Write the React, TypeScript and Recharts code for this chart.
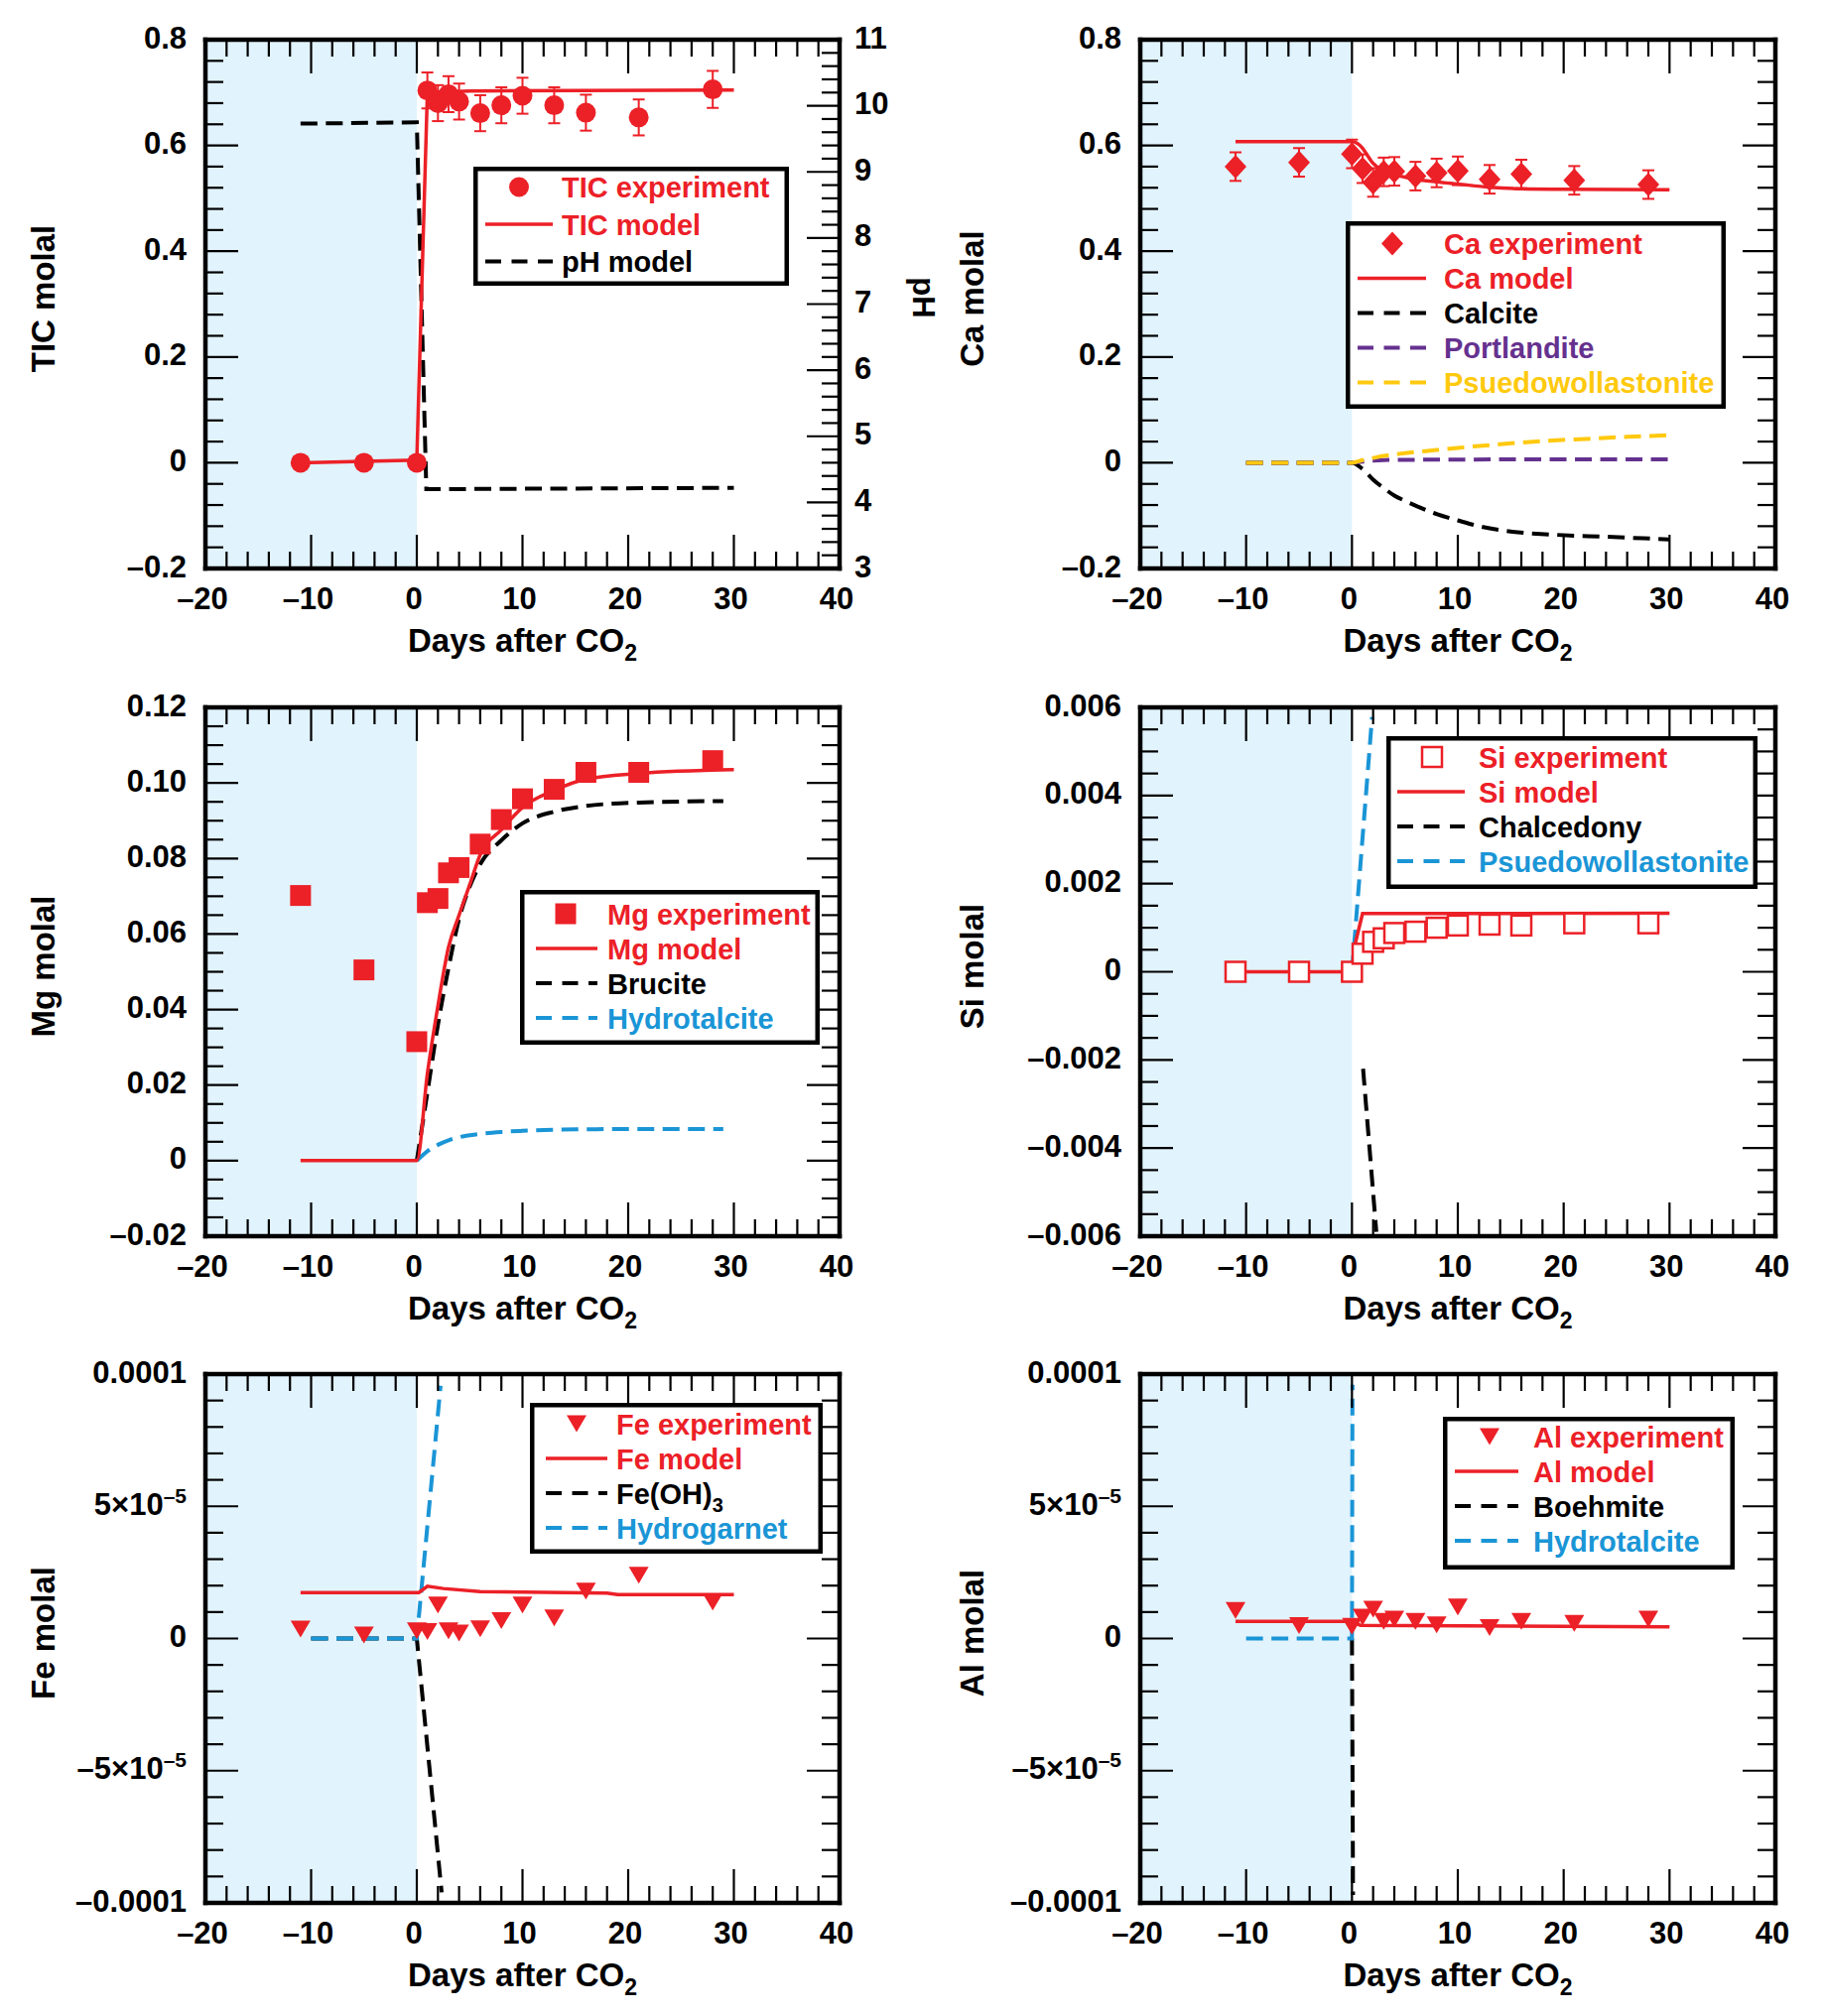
import React from 'react';
import { ComposedChart, Line, Scatter, XAxis, YAxis, ReferenceArea, ErrorBar, Legend } from 'recharts';

const FONT = '"Liberation Sans", Arial, Helvetica, sans-serif';
const RED = '#ec2027';
const BLUE = '#1a95d6';
const PURPLE = '#65318f';
const YELLOW = '#ffc90e';
const BLACK = '#000000';
const SHADE = '#e1f3fd';

// ---------- shared x axis ----------
const xDomain: [number, number] = [-20, 40];
const xMajorTicks = [-20, -10, 0, 10, 20, 30, 40];
const xMajorLabels = ['–20', '–10', '0', '10', '20', '30', '40'];
const xMinorStep = 2;
const shadeDays: [number, number] = [-20, 0];

// sampling days of the experiment
const sampleDays = [-11, -5, 0, 1, 2, 3, 4, 6, 8, 10, 13, 16, 21, 28];

// ---------- TIC / pH ----------
const ticTicks = [-0.2, 0, 0.2, 0.4, 0.6, 0.8];
const ticTickLabels = ['–0.2', '0', '0.2', '0.4', '0.6', '0.8'];
const phTicks = [3, 4, 5, 6, 7, 8, 9, 10, 11];
const phTickLabels = ['3', '4', '5', '6', '7', '8', '9', '10', '11'];
const ticExperiment = [0, 0, 0, 0.704, 0.68, 0.697, 0.683, 0.661, 0.676, 0.694, 0.676, 0.662, 0.653, 0.706];
const ticError = [0, 0, 0, 0.034, 0.034, 0.034, 0.034, 0.034, 0.034, 0.034, 0.034, 0.034, 0.034, 0.035];
const ticModelDays = [-11, 0, 1, 5, 30];
const ticModelValues = [0, 0.005, 0.7, 0.703, 0.705];
const phModelDays = [-11, 0, 0.9, 30];
const phModelValues = [9.73, 9.75, 4.2, 4.22];

// ---------- Ca ----------
const caTicks = [-0.2, 0, 0.2, 0.4, 0.6, 0.8];
const caTickLabels = ['–0.2', '0', '0.2', '0.4', '0.6', '0.8'];
const caExperiment = [0.56, 0.568, 0.584, 0.556, 0.53, 0.55, 0.551, 0.542, 0.548, 0.552, 0.536, 0.546, 0.534, 0.526];
const caError = [0.027, 0.027, 0.027, 0.027, 0.027, 0.027, 0.027, 0.027, 0.027, 0.027, 0.027, 0.027, 0.027, 0.027];
const caModelDays = [-11, 0, 0.5, 1, 1.5, 2, 3, 4, 5, 6, 8, 10, 13, 16, 20, 30];
const caModelValues = [0.607, 0.607, 0.604, 0.595, 0.58, 0.566, 0.552, 0.545, 0.54, 0.536, 0.531, 0.527, 0.521, 0.518, 0.517, 0.516];
const calciteDays = [-10, 0, 1, 2, 3, 4, 5, 6, 8, 10, 12, 15, 19, 24, 30];
const calciteValues = [0, 0, -0.012, -0.032, -0.048, -0.062, -0.072, -0.081, -0.097, -0.109, -0.12, -0.13, -0.136, -0.14, -0.145];
const portlanditeDays = [-10, 0, 1, 2, 3, 5, 10, 20, 30];
const portlanditeValues = [0, 0, 0.002, 0.004, 0.005, 0.0055, 0.006, 0.0065, 0.0065];
const pwoCaDays = [-10, 0, 1, 2, 3, 5, 8, 10, 14, 18, 22, 26, 30];
const pwoCaValues = [0, 0, 0.005, 0.009, 0.013, 0.018, 0.024, 0.028, 0.035, 0.041, 0.045, 0.049, 0.052];

// ---------- Mg ----------
const mgTicks = [-0.02, 0, 0.02, 0.04, 0.06, 0.08, 0.1, 0.12];
const mgTickLabels = ['–0.02', '0', '0.02', '0.04', '0.06', '0.08', '0.10', '0.12'];
const mgExperiment = [0.0702, 0.0505, 0.0315, 0.0683, 0.0694, 0.0762, 0.0776, 0.0838, 0.0903, 0.0958, 0.0983, 0.1028, 0.1028, 0.1059];
const mgModelDays = [-11, 0, 1, 2, 3, 4, 5, 6, 8, 10, 13, 16, 21, 30];
const mgModelValues = [0, 0, 0.023, 0.041, 0.0565, 0.065, 0.073, 0.081, 0.0876, 0.0935, 0.098, 0.101, 0.1025, 0.1035];
const bruciteDays = [0, 1, 2, 3, 4, 5, 6, 8, 10, 13, 16, 21, 29];
const bruciteValues = [0, 0.018, 0.036, 0.051, 0.064, 0.0725, 0.0785, 0.0848, 0.0893, 0.0924, 0.0939, 0.0948, 0.0952];
const htMgDays = [0, 1, 2, 3, 4, 6, 8, 10, 13, 16, 21, 29];
const htMgValues = [0, 0.0025, 0.0042, 0.0054, 0.0062, 0.0071, 0.0076, 0.0079, 0.0082, 0.0083, 0.0084, 0.0084];

// ---------- Si ----------
const siTicks = [-0.006, -0.004, -0.002, 0, 0.002, 0.004, 0.006];
const siTickLabels = ['–0.006', '–0.004', '–0.002', '0', '0.002', '0.004', '0.006'];
const siExperiment = [0, 0, 0, 0.00041, 0.00068, 0.00076, 0.00088, 0.00091, 0.001, 0.00105, 0.00107, 0.00105, 0.0011, 0.0011];
const siModelDays = [-11, 0, 0.3, 1, 30];
const siModelValues = [0, 0, 0.00063, 0.00132, 0.00133];
const chalcedonyDays = [1.05, 2.3];
const chalcedonyValues = [-0.0022, -0.0059];
const pwoSiDays = [0, 0.2, 1.9];
const pwoSiValues = [0, 0.0006, 0.00578];

// ---------- Fe ----------
const traceTicks = [-0.0001, -0.00005, 0, 0.00005, 0.0001];
const traceTickLabels = ['–0.0001', '–5×10^–5', '0', '5×10^–5', '0.0001'];
const feExperiment = [3.6e-6, 1.3e-6, 2.9e-6, 2.6e-6, 12.7e-6, 2.9e-6, 2.1e-6, 3.7e-6, 6.8e-6, 12.7e-6, 7.8e-6, 17.9e-6, 23.9e-6, 13.8e-6];
const feModelDays = [-11, 0.2, 1, 2.5, 6, 18, 19, 30];
const feModelValues = [17.4e-6, 17.4e-6, 19.8e-6, 18.9e-6, 17.7e-6, 17.2e-6, 16.6e-6, 16.6e-6];
const feOH3Days = [-10, 0, 2.35];
const feOH3Values = [0, 0, -96e-6];
const hydrogarnetDays = [-10, 0, 2.25];
const hydrogarnetValues = [0, 0, 95.6e-6];

// ---------- Al ----------
const alExperiment = [10.6e-6, 4.9e-6, 4.6e-6, 8.1e-6, 11.1e-6, 6.5e-6, 7.3e-6, 6.5e-6, 5.2e-6, 11.9e-6, 4.1e-6, 6.5e-6, 5.7e-6, 7.3e-6];
const alModelDays = [-11, 0, 0.8, 30];
const alModelValues = [6.5e-6, 6.5e-6, 5.0e-6, 4.4e-6];
const boehmiteDays = [0, 0.1];
const boehmiteValues = [0, -97e-6];
const htAlDays = [-10, 0, 0.05];
const htAlValues = [0, 0, 96e-6];

// ---------- helpers ----------
type MarkerKind = 'circle' | 'diamond' | 'square' | 'openSquare' | 'triDown';
interface AxisSpec { domain: [number, number]; majors: number[]; labels?: string[]; minorStep: number }
interface LineSpec { days: number[]; values: number[]; color: string; dashed?: boolean; axis?: 'l' | 'r'; smooth?: boolean }
interface PointSpec { days: number[]; values: number[]; errors?: number[]; kind: MarkerKind; color: string }
interface LegendItem { label: string; sub?: string; color: string; symbol: MarkerKind | 'solid' | 'dash' }
interface LegendSpec { left: number; top: number; width: number; height: number; textX: number; symX: number; lineX1: number; lineX2: number; first: number; gap: number; items: LegendItem[] }
interface PanelSpec { left: number; top: number; col: 0 | 1; y: AxisSpec; r?: AxisSpec; yTitle: string; rTitle?: string; lines: LineSpec[]; points: PointSpec; legend: LegendSpec }

function steps(min: number, max: number, step: number): number[] {
  const n = Math.round((max - min) / step);
  const out: number[] = [];
  for (let k = 0; k <= n; k++) out.push(Number((min + k * step).toPrecision(10)));
  return out;
}

function zip(xs: number[], ys: number[], es?: number[]) {
  return xs.map((x, i) => ({ x, y: ys[i], e: es ? es[i] : 0 }));
}

function Marker({ kind, cx, cy, color }: { kind: MarkerKind; cx: number; cy: number; color: string }) {
  if (cx == null || cy == null || isNaN(cx) || isNaN(cy)) return null;
  switch (kind) {
    case 'circle':
      return <circle cx={cx} cy={cy} r={10} fill={color} />;
    case 'diamond':
      return <polygon points={`${cx},${cy - 12} ${cx + 11},${cy} ${cx},${cy + 12} ${cx - 11},${cy}`} fill={color} />;
    case 'square':
      return <rect x={cx - 10.5} y={cy - 10.5} width={21} height={21} fill={color} />;
    case 'openSquare':
      return <rect x={cx - 10} y={cy - 10} width={20} height={20} fill="#ffffff" stroke={color} strokeWidth={2.5} />;
    case 'triDown':
    default:
      return <polygon points={`${cx - 10},${cy - 8.5} ${cx + 10},${cy - 8.5} ${cx},${cy + 8.5}`} fill={color} />;
  }
}

function labelText(str: string, x: number, y: number, anchor: 'start' | 'middle' | 'end') {
  const [base, sup] = str.split('^');
  return (
    <text x={x} y={y} textAnchor={anchor} fontFamily={FONT} fontWeight="bold" fontSize={31} fill="#000">
      {base}
      {sup ? <tspan dy={-12} fontSize={21}>{sup}</tspan> : null}
    </text>
  );
}

type Side = 'bottom' | 'top' | 'left' | 'right';
function makeTick(side: Side, majors: number[], labels: string[] | undefined, tol: number) {
  return (props: any) => {
    const { x, y, payload } = props;
    const v = Number(payload && payload.value);
    const idx = majors.findIndex((m) => Math.abs(m - v) < tol);
    const major = idx >= 0;
    let line: React.ReactNode = null;
    let lab: React.ReactNode = null;
    if (side === 'bottom' || side === 'top') {
      const len = major ? 34 : 17;
      const y2 = side === 'bottom' ? y - len : y + len;
      line = <line x1={x} x2={x} y1={y} y2={y2} stroke="#000" strokeWidth={2.2} />;
      if (major && labels && side === 'bottom') lab = labelText(labels[idx], x - 3, y + 40.5, 'middle');
    } else {
      const len = major ? 33 : 18;
      const x2 = side === 'left' ? x + len : x - len;
      line = <line x1={x} x2={x2} y1={y} y2={y} stroke="#000" strokeWidth={2.2} />;
      if (major && labels) {
        lab = side === 'left' ? labelText(labels[idx], x - 19, y + 8.5, 'end') : labelText(labels[idx], x + 15, y + 8.5, 'start');
      }
    }
    return (
      <g>
        {line}
        {lab}
      </g>
    );
  };
}

function XTitle({ px }: any) {
  return (
    <text x={px} y={657} textAnchor="middle" fontFamily={FONT} fontWeight="bold" fontSize={33} fill="#000">
      Days after CO<tspan dy={9} fontSize={23}>2</tspan>
    </text>
  );
}

function RotTitle({ tcx, tcy, ttext, tdeg, tsize }: any) {
  return (
    <text x={tcx} y={tcy} dy="0.36em" transform={`rotate(${tdeg} ${tcx} ${tcy})`} textAnchor="middle" fontFamily={FONT} fontWeight="bold" fontSize={tsize} fill="#000">
      {ttext}
    </text>
  );
}

function LegendBox({ spec }: { spec: LegendSpec }) {
  const w = spec.width;
  const h = spec.height;
  return (
    <svg width={w} height={h} style={{ display: 'block', overflow: 'visible' }}>
      <rect x={2.25} y={2.25} width={w - 4.5} height={h - 4.5} fill="#ffffff" stroke="#000" strokeWidth={4.5} />
      {spec.items.map((it, i) => {
        const base = spec.first + i * spec.gap;
        const cy = base - 10.5;
        const sym =
          it.symbol === 'solid' || it.symbol === 'dash' ? (
            <line x1={spec.lineX1} x2={spec.lineX2} y1={cy} y2={cy} stroke={it.color} strokeWidth={it.symbol === 'dash' ? 4 : 3.5} strokeDasharray={it.symbol === 'dash' ? '16 10.5' : undefined} />
          ) : (
            <Marker kind={it.symbol} cx={spec.symX} cy={cy} color={it.color} />
          );
        return (
          <g key={i}>
            {sym}
            <text x={spec.textX} y={base} fontFamily={FONT} fontWeight="bold" fontSize={29} fill={it.color}>
              {it.label}
              {it.sub ? <tspan dy={8} fontSize={20}>{it.sub}</tspan> : null}
            </text>
          </g>
        );
      })}
    </svg>
  );
}

const AXIS_LINE = { stroke: '#000', strokeWidth: 4.5, strokeLinecap: 'square' as const };
const CHART_H = 673;

function Panel({ spec }: { spec: PanelSpec }) {
  const left = spec.col === 0;
  const width = left ? 960 : 919;
  const rightW = left ? 60 : 30;
  const margin = left ? { top: 30, right: 54, bottom: 40, left: 107 } : { top: 30, right: 20, bottom: 40, left: 129 };
  const plotL = left ? 207 : 229;
  const plotR = width - margin.right - rightW;
  const y = spec.y;
  const r: AxisSpec = spec.r ?? { domain: y.domain, majors: y.majors, minorStep: y.minorStep };
  const xTicks = steps(xDomain[0], xDomain[1], xMinorStep);
  const yTicks = steps(y.domain[0], y.domain[1], y.minorStep);
  const rTicks = steps(r.domain[0], r.domain[1], r.minorStep);
  const xTol = xMinorStep * 0.01;
  const lg = spec.legend;
  const pts = zip(spec.points.days, spec.points.values, spec.points.errors);
  const kind = spec.points.kind;
  const pColor = spec.points.color;
  return (
    <div style={{ position: 'absolute', left: spec.left, top: spec.top, width, height: CHART_H }}>
      <ComposedChart width={width} height={CHART_H} margin={margin}>
        <ReferenceArea xAxisId="b" yAxisId="l" x1={shadeDays[0]} x2={shadeDays[1]} fill={SHADE} fillOpacity={1} stroke="none" />
        <XAxis
          xAxisId="b"
          type="number"
          dataKey="x"
          domain={xDomain}
          ticks={xTicks}
          interval={0}
          allowDataOverflow
          tickSize={0}
          tickMargin={0}
          tickLine={false}
          axisLine={AXIS_LINE}
          tick={makeTick('bottom', xMajorTicks, xMajorLabels, xTol)}
          height={60}
          label={<XTitle px={(plotL + plotR) / 2} />}
        />
        <XAxis
          xAxisId="t"
          orientation="top"
          type="number"
          dataKey="x"
          domain={xDomain}
          ticks={xTicks}
          interval={0}
          allowDataOverflow
          tickSize={0}
          tickMargin={0}
          tickLine={false}
          axisLine={AXIS_LINE}
          tick={makeTick('top', xMajorTicks, undefined, xTol)}
          height={10}
        />
        <YAxis
          yAxisId="l"
          type="number"
          domain={y.domain}
          ticks={yTicks}
          interval={0}
          allowDataOverflow
          tickSize={0}
          tickMargin={0}
          tickLine={false}
          axisLine={AXIS_LINE}
          tick={makeTick('left', y.majors, y.labels, y.minorStep * 0.01)}
          width={100}
          label={<RotTitle tcx={left ? 43 : 59} tcy={301} ttext={spec.yTitle} tdeg={-90} tsize={33} />}
        />
        <YAxis
          yAxisId="r"
          orientation="right"
          type="number"
          domain={r.domain}
          ticks={rTicks}
          interval={0}
          allowDataOverflow
          tickSize={0}
          tickMargin={0}
          tickLine={false}
          axisLine={AXIS_LINE}
          tick={makeTick('right', r.majors, r.labels, r.minorStep * 0.01)}
          width={rightW}
          label={spec.rTitle ? <RotTitle tcx={931} tcy={300} ttext={spec.rTitle} tdeg={90} tsize={31} /> : undefined}
        />
        {spec.lines.map((ls, i) => (
          <Line
            key={i}
            xAxisId="b"
            yAxisId={ls.axis ?? 'l'}
            data={zip(ls.days, ls.values)}
            dataKey="y"
            type={ls.smooth ? 'monotone' : 'linear'}
            stroke={ls.color}
            strokeWidth={ls.dashed ? 4 : 3.5}
            strokeDasharray={ls.dashed ? '17 8.5' : undefined}
            dot={false}
            activeDot={false}
            legendType="none"
            isAnimationActive={false}
          />
        ))}
        <Scatter
          xAxisId="b"
          yAxisId="l"
          data={pts}
          dataKey="y"
          legendType="none"
          isAnimationActive={false}
          shape={(p: any) => <Marker kind={kind} cx={p.cx} cy={p.cy} color={pColor} />}
        >
          {spec.points.errors ? <ErrorBar dataKey="e" direction="y" width={6} stroke={pColor} strokeWidth={2} isAnimationActive={false} /> : null}
        </Scatter>
        <Legend
          layout="vertical"
          align="center"
          verticalAlign="middle"
          wrapperStyle={{ left: lg.left, top: lg.top, width: lg.width, height: lg.height, margin: 0, padding: 0, lineHeight: 0 }}
          content={() => <LegendBox spec={lg} />}
        />
      </ComposedChart>
    </div>
  );
}

// ---------- panel specs ----------
const panels: PanelSpec[] = [
  {
    left: 0, top: 0, col: 0,
    y: { domain: [-0.2, 0.8], majors: ticTicks, labels: ticTickLabels, minorStep: 0.04 },
    r: { domain: [3, 11], majors: phTicks, labels: phTickLabels, minorStep: 0.2 },
    yTitle: 'TIC molal', rTitle: 'pH',
    lines: [
      { days: phModelDays, values: phModelValues, color: BLACK, dashed: true, axis: 'r' },
      { days: ticModelDays, values: ticModelValues, color: RED },
    ],
    points: { days: sampleDays, values: ticExperiment, errors: ticError, kind: 'circle', color: RED },
    legend: {
      left: 477, top: 168, width: 318, height: 120, textX: 89, symX: 46, lineX1: 12, lineX2: 80, first: 31, gap: 37.5,
      items: [
        { label: 'TIC experiment', color: RED, symbol: 'circle' },
        { label: 'TIC model', color: RED, symbol: 'solid' },
        { label: 'pH model', color: BLACK, symbol: 'dash' },
      ],
    },
  },
  {
    left: 920, top: 0, col: 1,
    y: { domain: [-0.2, 0.8], majors: caTicks, labels: caTickLabels, minorStep: 0.04 },
    yTitle: 'Ca molal',
    lines: [
      { days: calciteDays, values: calciteValues, color: BLACK, dashed: true, smooth: true },
      { days: portlanditeDays, values: portlanditeValues, color: PURPLE, dashed: true, smooth: true },
      { days: pwoCaDays, values: pwoCaValues, color: YELLOW, dashed: true, smooth: true },
      { days: caModelDays, values: caModelValues, color: RED, smooth: true },
    ],
    points: { days: sampleDays, values: caExperiment, errors: caError, kind: 'diamond', color: RED },
    legend: {
      left: 436, top: 223, width: 383, height: 189, textX: 99, symX: 47, lineX1: 12, lineX2: 81, first: 33, gap: 35,
      items: [
        { label: 'Ca experiment', color: RED, symbol: 'diamond' },
        { label: 'Ca model', color: RED, symbol: 'solid' },
        { label: 'Calcite', color: BLACK, symbol: 'dash' },
        { label: 'Portlandite', color: PURPLE, symbol: 'dash' },
        { label: 'Psuedowollastonite', color: YELLOW, symbol: 'dash' },
      ],
    },
  },
  {
    left: 0, top: 673, col: 0,
    y: { domain: [-0.02, 0.12], majors: mgTicks, labels: mgTickLabels, minorStep: 0.005 },
    yTitle: 'Mg molal',
    lines: [
      { days: bruciteDays, values: bruciteValues, color: BLACK, dashed: true, smooth: true },
      { days: htMgDays, values: htMgValues, color: BLUE, dashed: true, smooth: true },
      { days: mgModelDays, values: mgModelValues, color: RED, smooth: true },
    ],
    points: { days: sampleDays, values: mgExperiment, kind: 'square', color: RED },
    legend: {
      left: 524, top: 224, width: 302, height: 156, textX: 88, symX: 46, lineX1: 16, lineX2: 78, first: 34.5, gap: 35,
      items: [
        { label: 'Mg experiment', color: RED, symbol: 'square' },
        { label: 'Mg model', color: RED, symbol: 'solid' },
        { label: 'Brucite', color: BLACK, symbol: 'dash' },
        { label: 'Hydrotalcite', color: BLUE, symbol: 'dash' },
      ],
    },
  },
  {
    left: 920, top: 673, col: 1,
    y: { domain: [-0.006, 0.006], majors: siTicks, labels: siTickLabels, minorStep: 0.0005 },
    yTitle: 'Si molal',
    lines: [
      { days: chalcedonyDays, values: chalcedonyValues, color: BLACK, dashed: true },
      { days: pwoSiDays, values: pwoSiValues, color: BLUE, dashed: true },
      { days: siModelDays, values: siModelValues, color: RED },
    ],
    points: { days: sampleDays, values: siExperiment, kind: 'openSquare', color: RED },
    legend: {
      left: 477, top: 69, width: 374, height: 154, textX: 93, symX: 46, lineX1: 11, lineX2: 79, first: 31.5, gap: 35,
      items: [
        { label: 'Si experiment', color: RED, symbol: 'openSquare' },
        { label: 'Si model', color: RED, symbol: 'solid' },
        { label: 'Chalcedony', color: BLACK, symbol: 'dash' },
        { label: 'Psuedowollastonite', color: BLUE, symbol: 'dash' },
      ],
    },
  },
  {
    left: 0, top: 1345, col: 0,
    y: { domain: [-0.0001, 0.0001], majors: traceTicks, labels: traceTickLabels, minorStep: 0.00001 },
    yTitle: 'Fe molal',
    lines: [
      { days: feOH3Days, values: feOH3Values, color: BLACK, dashed: true },
      { days: hydrogarnetDays, values: hydrogarnetValues, color: BLUE, dashed: true },
      { days: feModelDays, values: feModelValues, color: RED },
    ],
    points: { days: sampleDays, values: feExperiment, kind: 'triDown', color: RED },
    legend: {
      left: 534, top: 69, width: 295, height: 152, textX: 87, symX: 47, lineX1: 16, lineX2: 78, first: 31.5, gap: 35,
      items: [
        { label: 'Fe experiment', color: RED, symbol: 'triDown' },
        { label: 'Fe model', color: RED, symbol: 'solid' },
        { label: 'Fe(OH)', sub: '3', color: BLACK, symbol: 'dash' },
        { label: 'Hydrogarnet', color: BLUE, symbol: 'dash' },
      ],
    },
  },
  {
    left: 920, top: 1345, col: 1,
    y: { domain: [-0.0001, 0.0001], majors: traceTicks, labels: traceTickLabels, minorStep: 0.00001 },
    yTitle: 'Al molal',
    lines: [
      { days: boehmiteDays, values: boehmiteValues, color: BLACK, dashed: true },
      { days: htAlDays, values: htAlValues, color: BLUE, dashed: true },
      { days: alModelDays, values: alModelValues, color: RED },
    ],
    points: { days: sampleDays, values: alExperiment, kind: 'triDown', color: RED },
    legend: {
      left: 534, top: 83, width: 294, height: 154, textX: 91, symX: 47, lineX1: 12, lineX2: 76, first: 30.5, gap: 35,
      items: [
        { label: 'Al experiment', color: RED, symbol: 'triDown' },
        { label: 'Al model', color: RED, symbol: 'solid' },
        { label: 'Boehmite', color: BLACK, symbol: 'dash' },
        { label: 'Hydrotalcite', color: BLUE, symbol: 'dash' },
      ],
    },
  },
];

export default function App() {
  return (
    <div style={{ position: 'relative', width: 1839, height: 2032, background: '#ffffff', fontFamily: FONT }}>
      <style>{'body{margin:0;background:#ffffff;}'}</style>
      {panels.map((p, i) => (
        <Panel key={i} spec={p} />
      ))}
    </div>
  );
}
